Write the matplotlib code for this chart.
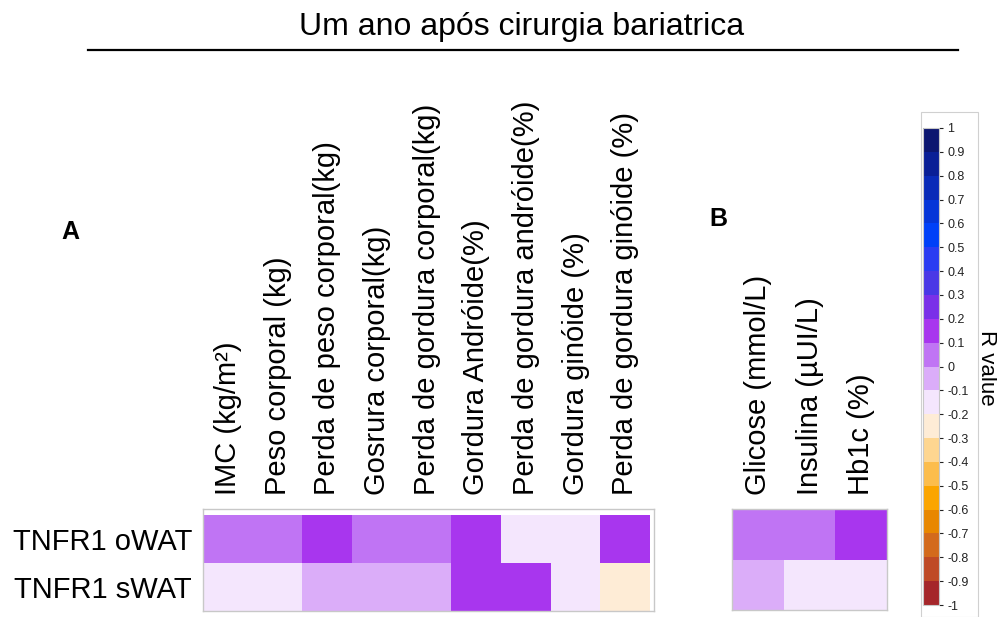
import matplotlib
matplotlib.use("Agg")
import matplotlib.pyplot as plt
import numpy as np
from matplotlib.colors import ListedColormap, BoundaryNorm
from matplotlib.patches import Rectangle
from matplotlib.lines import Line2D

plt.rcParams['font.family'] = ['Liberation Sans', 'DejaVu Sans']

# Data
rows = ["TNFR1 oWAT", "TNFR1 sWAT"]
cols_a = ["IMC (kg/m²)", "Peso corporal (kg)", "Perda de peso corporal(kg)",
          "Gosrura corporal(kg)", "Perda de gordura corporal(kg)",
          "Gordura Andróide(%)", "Perda de gordura andróide(%)",
          "Gordura ginóide (%)", "Perda de gordura ginóide (%)"]
r_a_owat = [0.05, 0.05, 0.15, 0.05, 0.05, 0.15, -0.15, -0.15, 0.15]
r_a_swat = [-0.15, -0.15, -0.05, -0.05, -0.05, 0.15, 0.15, -0.15, -0.25]
cols_b = ["Glicose (mmol/L)", "Insulina (µUI/L)", "Hb1c (%)"]
r_b_owat = [0.05, 0.05, 0.15]
r_b_swat = [-0.05, -0.15, -0.15]

# Stepped diverging palette, from R = -1 up to R = 1
palette = ["#a5262a", "#bf4a26", "#d36a1c", "#e88700", "#fba500",
           "#fcbd4c", "#fed690", "#feecd6", "#f4e6fd", "#dbadf9",
           "#c074f4", "#a836ee", "#7a30e8", "#4a38e6", "#2b3cf2",
           "#0040f8", "#0535d8", "#0a2bb8", "#0a1f96", "#0c1670"]
bounds = np.round(np.linspace(-1, 1, 21), 2)
cmap = ListedColormap(palette)
norm = BoundaryNorm(bounds, cmap.N)

W, H = 997, 617
fig = plt.figure(figsize=(W / 100, H / 100), dpi=100)


def px_axes(l, t, r, b):
    return fig.add_axes([l / W, 1 - b / H, (r - l) / W, (b - t) / H])


# Title and rule
fig.text(522 / W, 1 - 27 / H, "Um ano após cirurgia bariatrica", ha="center",
         va="center", fontsize=23)
fig.add_artist(Line2D([88 / W, 958 / W], [1 - 50 / H, 1 - 50 / H],
                      color="black", lw=1.6, transform=fig.transFigure))

# Panel letters
fig.text(70 / W, 1 - 232 / H, "A", ha="center", va="center", fontsize=18,
         fontweight="bold")
fig.text(718 / W, 1 - 219 / H, "B", ha="center", va="center", fontsize=18,
         fontweight="bold")


def heatmap(ax, data, cols, show_rows, xpad, ypad):
    data = np.array(data)
    ax.pcolormesh(np.arange(data.shape[1] + 1), np.arange(data.shape[0] + 1),
                  data, cmap=cmap, norm=norm, edgecolors="none")
    ax.set_xlim(0, data.shape[1] + xpad)
    ax.set_ylim(data.shape[0], -ypad)
    ax.xaxis.tick_top()
    ax.set_xticks(np.arange(data.shape[1]) + 0.5)
    ax.set_xticklabels(cols, rotation=90, fontsize=21)
    ax.tick_params(axis="x", length=0, pad=10)
    if show_rows:
        ax.set_yticks(np.arange(data.shape[0]) + 0.5)
        ax.set_yticklabels(rows, fontsize=21)
        ax.tick_params(axis="y", length=0, pad=8)
    else:
        ax.set_yticks([])
    for s in ax.spines.values():
        s.set_color("#c8c8c8")
        s.set_linewidth(1.0)


ax_a = px_axes(203, 509, 654, 611)
heatmap(ax_a, [r_a_owat, r_a_swat], cols_a, True, 0.08, 0.125)

ax_b = px_axes(732, 509, 887, 610)
heatmap(ax_b, [r_b_owat, r_b_swat], cols_b, False, 0.0, 0.0)

# Colour scale
cax = px_axes(923, 128, 939, 605)
sm = matplotlib.cm.ScalarMappable(norm=norm, cmap=cmap)
cb = fig.colorbar(sm, cax=cax, ticks=bounds)
cb.ax.set_yticklabels([("%g" % b) for b in bounds], fontsize=9)
cb.ax.tick_params(length=3, width=0.8, pad=3, colors="#222222")
cb.outline.set_edgecolor("#c8c8c8")
cb.outline.set_linewidth(0.8)
fig.text(986 / W, 1 - 368 / H, "R value", rotation=-90, ha="center",
         va="center", fontsize=16)
fig.add_artist(Rectangle((921 / W, 1 - 617 / H), 57 / W, (617 - 112) / H,
                         transform=fig.transFigure, fill=False,
                         edgecolor="#d0d0d0", lw=0.8))

fig.savefig("out.png", dpi=100)
